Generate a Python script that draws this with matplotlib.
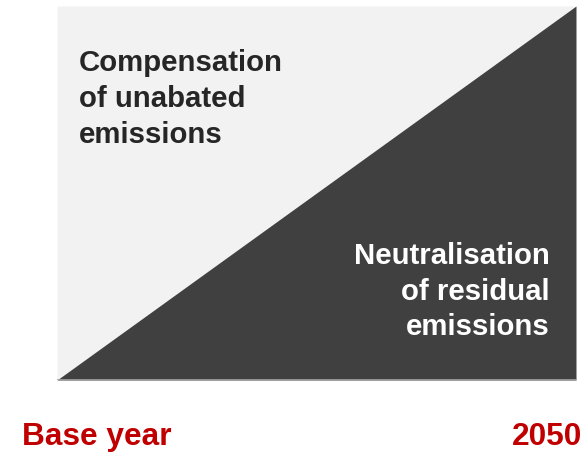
import matplotlib.pyplot as plt

# Shares of emissions over the pathway (0 = base year, 1 = 2050)
godine = [0, 1]
neutralizacija = [0, 1]   # residual emissions neutralised
ukupno = [1, 1]

oznake_x = ['Base year', '2050']
tekst_gore = 'Compensation\nof unabated\nemissions'
tekst_dolje = 'Neutralisation\nof residual\nemissions'

plt.rcParams['font.family'] = ['Liberation Sans', 'DejaVu Sans']

fig = plt.figure(figsize=(5.88, 4.53), dpi=100)
ax = fig.add_axes([57 / 588, 73 / 453, 519 / 588, 374 / 453])

ax.fill_between(godine, neutralizacija, ukupno, color='#f2f2f2', linewidth=0)
ax.fill_between(godine, 0, neutralizacija, color='#404040', linewidth=0)
ax.axhline(0, color='#a6a6a6', linewidth=1.2)
ax.set_xlim(0, 1)
ax.set_ylim(0, 1)
ax.axis('off')

ax.text(0.042, 0.885, tekst_gore, transform=ax.transAxes, ha='left', va='top',
        fontsize=21.2, fontweight='bold', color='#262626', linespacing=1.36)
ax.text(0.95, 0.37, tekst_dolje, transform=ax.transAxes, ha='right', va='top',
        fontsize=21.2, fontweight='bold', color='white', linespacing=1.36)

fig.text(22 / 588, 1 - 437 / 453, oznake_x[0], ha='left', va='center',
         fontsize=22.8, fontweight='bold', color='#c00000')
fig.text(582 / 588, 1 - 437 / 453, oznake_x[1], ha='right', va='center',
         fontsize=22.8, fontweight='bold', color='#c00000')

plt.savefig('out.png', dpi=100)
